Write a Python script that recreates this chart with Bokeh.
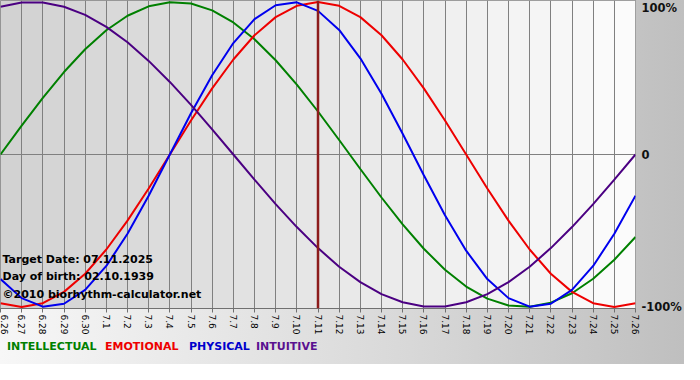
import math
from bokeh.plotting import figure
from bokeh.models import FixedTicker, Label, Span, Range1d, Div
from bokeh.layouts import column
from bokeh.embed import file_html
from bokeh.resources import INLINE

# ---- data ----
dates = ["6.26", "6.27", "6.28", "6.29", "6.30",
         "7.1", "7.2", "7.3", "7.4", "7.5", "7.6", "7.7", "7.8", "7.9", "7.10",
         "7.11", "7.12", "7.13", "7.14", "7.15", "7.16", "7.17", "7.18", "7.19",
         "7.20", "7.21", "7.22", "7.23", "7.24", "7.25", "7.26"]

physical = [-81.7, -94.2, -99.8, -97.9, -88.8, -73.1, -52.0, -27.0, 0.0, 27.0,
            52.0, 73.1, 88.8, 97.9, 99.8, 94.2, 81.7, 63.1, 39.8, 13.6,
            -13.6, -39.8, -63.1, -81.7, -94.2, -99.8, -97.9, -88.8, -73.1, -52.0, -27.0]

emotional = [-97.5, -100.0, -97.5, -90.1, -78.2, -62.3, -43.4, -22.3, 0.0, 22.3,
             43.4, 62.3, 78.2, 90.1, 97.5, 100.0, 97.5, 90.1, 78.2, 62.3,
             43.4, 22.3, 0.0, -22.3, -43.4, -62.3, -78.2, -90.1, -97.5, -100.0, -97.5]

intellectual = [0.0, 18.9, 37.2, 54.1, 69.0, 81.5, 91.0, 97.2, 99.9, 99.0,
                94.5, 86.6, 75.6, 61.8, 45.8, 28.2, 9.5, -9.5, -28.2, -45.8,
                -61.8, -75.6, -86.6, -94.5, -99.0, -99.9, -97.2, -91.0, -81.5, -69.0, -54.1]

intuitive = [96.9, 99.7, 99.7, 96.9, 91.6, 83.7, 73.6, 61.4, 47.6, 32.5,
             16.5, 0.0, -16.5, -32.5, -47.6, -61.4, -73.6, -83.7, -91.6, -96.9,
             -99.7, -99.7, -96.9, -91.6, -83.7, -73.6, -61.4, -47.6, -32.5, -16.5, 0.0]

target_date = "7.11"
target_text = "Target Date: 07.11.2025"
birth_text = "Day of birth: 02.10.1939"
copyright_text = "\u00a92010 biorhythm-calculator.net"

y_tick_values = [-100, 0, 96]
y_tick_labels = ["-100%", "0", "100%"]

series_names = ["INTELLECTUAL", "EMOTIONAL", "PHYSICAL", "INTUITIVE"]
series_colors = ["#008000", "#ee0000", "#0000ee", "#4b0082"]
legend_colors = ["#008000", "#ee0000", "#0000cc", "#5a1190"]

FONT = "DejaVu Sans"
days = list(range(len(dates)))

W = 684
PLOT_H = 338
LEGEND_H = 26

p = figure(width=W, height=PLOT_H, output_backend="svg", toolbar_location=None,
           x_range=Range1d(days[0], days[-1]), y_range=Range1d(-101, 101),
           y_axis_location="right",
           min_border_left=0, min_border_top=0, min_border_right=48,
           min_border_bottom=30)
p.margin = 0
p.border_fill_alpha = 0
p.background_fill_color = "#e6e6e6"
p.outline_line_color = "#808080"

# plot area horizontal gradient (dark left -> light right)
n = len(days) - 1
lefts = days[:-1]
rights = days[1:]
cols = []
for i in range(n):
    t = i / (n - 1)
    v = int(round(0xd2 + (0xfb - 0xd2) * t))
    cols.append("#%02x%02x%02x" % (v, v, v))
p.quad(left=lefts, right=rights, bottom=-101, top=101, fill_color=cols,
       line_color=None, level="underlay")

# axes
xa = p.xaxis[0]
xa.ticker = FixedTicker(ticks=days)
xa.major_label_overrides = {d: lab for d, lab in zip(days, dates)}
xa.major_label_orientation = -math.pi / 2
xa.major_label_text_font = FONT
xa.major_label_text_font_size = "9px"
xa.major_label_text_color = "#000000"
xa.major_label_standoff = 2
xa.major_tick_out = 4
xa.major_tick_in = 0
xa.major_tick_line_color = "#707070"
xa.minor_tick_line_color = None
xa.axis_line_color = "#707070"

ya = p.yaxis[0]
ya.ticker = FixedTicker(ticks=y_tick_values)
ya.major_label_overrides = {v: lab for v, lab in zip(y_tick_values, y_tick_labels)}
ya.major_label_text_font = FONT
ya.major_label_text_font_style = "bold"
ya.major_label_text_font_size = "11.5px"
ya.major_label_text_color = "#111111"
ya.major_label_standoff = 6
ya.major_tick_out = 0
ya.major_tick_in = 0
ya.minor_tick_line_color = None
ya.axis_line_color = None

p.xgrid.ticker = FixedTicker(ticks=days)
p.xgrid.grid_line_color = "#808080"
p.xgrid.grid_line_width = 1
p.ygrid.ticker = FixedTicker(ticks=[0])
p.ygrid.grid_line_color = "#808080"
p.ygrid.grid_line_width = 1

# curves
for vals, col in zip([intellectual, emotional, physical, intuitive], series_colors):
    p.line(days, vals, line_color=col, line_width=2)

# target date line
p.add_layout(Span(location=dates.index(target_date), dimension="height",
                  line_color="#8c1c1c", line_width=2.5))

# info texts
for txt, yy in [(target_text, 49), (birth_text, 32), (copyright_text, 14)]:
    p.add_layout(Label(x=2, y=yy, x_units="screen", y_units="screen", text=txt,
                       text_font=FONT, text_font_style="bold",
                       text_font_size="11px", text_color="#000000",
                       text_baseline="middle"))

# legend strip (coloured words)
widths = [98, 84, 67, 90]
spans = "".join(
    '<span style="display:inline-block;width:%dpx;color:%s">%s</span>' % (w, c, nm)
    for nm, c, w in zip(series_names, legend_colors, widths))
legend = Div(text=spans, width=W, height=LEGEND_H, margin=0,
             styles={"font-family": FONT, "font-weight": "bold", "font-size": "11px",
                     "line-height": "18px", "white-space": "nowrap",
                     "padding-left": "7px", "box-sizing": "border-box"})

layout = column(p, legend, spacing=0,
                styles={"background": "linear-gradient(to right, #f7f7f7 0%, #d8d8d8 60%, #bfbfbf 100%)"})

open("out.html", "w").write(file_html(layout, INLINE))
